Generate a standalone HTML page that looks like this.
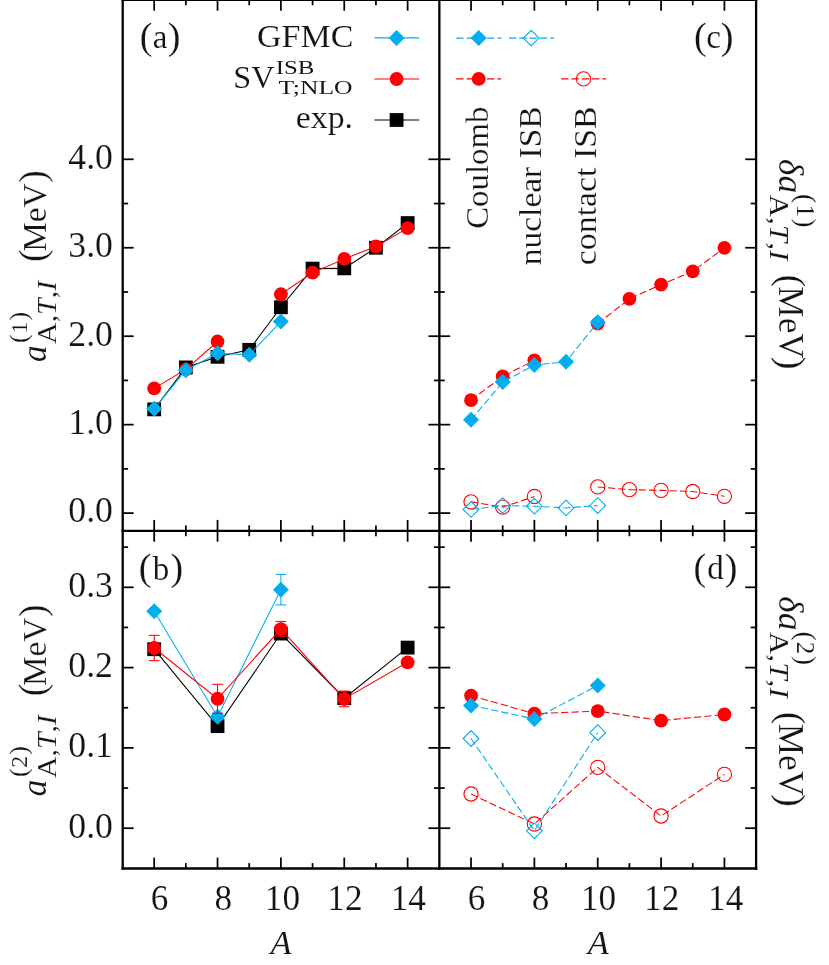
<!DOCTYPE html>
<html>
<head>
<meta charset="utf-8">
<title>Figure</title>
<style>
html, body { margin: 0; padding: 0; background: #ffffff; }
body { width: 829px; height: 965px; overflow: hidden; font-family: "Liberation Serif", serif; }
svg { display: block; will-change: transform; }
</style>
</head>
<body>
<svg width="829" height="965" viewBox="0 0 829 965" font-family="'Liberation Serif', serif">
<rect x="0" y="0" width="829" height="965" fill="#ffffff"/>
<polyline points="154.18,409.35 185.86,367.42 217.54,356.81 249.22,349.82 280.9,307.28 312.58,268.62 344.26,268.36 375.94,247.75 407.62,223.07" fill="none" stroke="#000000" stroke-width="1.08"/>
<rect x="147.28" y="402.45" width="13.8" height="13.8" fill="#000000"/>
<rect x="178.96" y="360.52" width="13.8" height="13.8" fill="#000000"/>
<rect x="210.64" y="349.91" width="13.8" height="13.8" fill="#000000"/>
<rect x="242.32" y="342.92" width="13.8" height="13.8" fill="#000000"/>
<rect x="274" y="300.38" width="13.8" height="13.8" fill="#000000"/>
<rect x="305.68" y="261.72" width="13.8" height="13.8" fill="#000000"/>
<rect x="337.36" y="261.46" width="13.8" height="13.8" fill="#000000"/>
<rect x="369.04" y="240.85" width="13.8" height="13.8" fill="#000000"/>
<rect x="400.72" y="216.17" width="13.8" height="13.8" fill="#000000"/>
<polyline points="154.18,388.39 185.86,369.37 217.54,341.51" fill="none" stroke="#ff0000" stroke-width="1.08"/>
<polyline points="280.9,294.27 312.58,272.6 344.26,258.89 375.94,246.42 407.62,228.11" fill="none" stroke="#ff0000" stroke-width="1.08"/>
<circle cx="154.18" cy="388.39" r="6.9" fill="#ff0000"/>
<circle cx="185.86" cy="369.37" r="6.9" fill="#ff0000"/>
<circle cx="217.54" cy="341.51" r="6.9" fill="#ff0000"/>
<circle cx="280.9" cy="294.27" r="6.9" fill="#ff0000"/>
<circle cx="312.58" cy="272.6" r="6.9" fill="#ff0000"/>
<circle cx="344.26" cy="258.89" r="6.9" fill="#ff0000"/>
<circle cx="375.94" cy="246.42" r="6.9" fill="#ff0000"/>
<circle cx="407.62" cy="228.11" r="6.9" fill="#ff0000"/>
<polyline points="154.18,408.64 185.86,370.16 217.54,353.18 249.22,354.86 280.9,321.52" fill="none" stroke="#00aeef" stroke-width="1.08"/>
<polygon points="146.18,408.64 154.18,400.64 162.18,408.64 154.18,416.64" fill="#00aeef"/>
<polygon points="177.86,370.16 185.86,362.16 193.86,370.16 185.86,378.16" fill="#00aeef"/>
<polygon points="209.54,353.18 217.54,345.18 225.54,353.18 217.54,361.18" fill="#00aeef"/>
<polygon points="241.22,354.86 249.22,346.86 257.22,354.86 249.22,362.86" fill="#00aeef"/>
<polygon points="272.9,321.52 280.9,313.52 288.9,321.52 280.9,329.52" fill="#00aeef"/>
<polyline points="154.18,649.21 217.54,726.14 280.9,633.55 344.26,698.19 407.62,647.61" fill="none" stroke="#000000" stroke-width="1.08"/>
<rect x="147.28" y="642.31" width="13.8" height="13.8" fill="#000000"/>
<rect x="210.64" y="719.24" width="13.8" height="13.8" fill="#000000"/>
<rect x="274" y="626.65" width="13.8" height="13.8" fill="#000000"/>
<rect x="337.36" y="691.29" width="13.8" height="13.8" fill="#000000"/>
<rect x="400.72" y="640.71" width="13.8" height="13.8" fill="#000000"/>
<polyline points="154.18,611.31 217.54,716.66 280.9,589.63" fill="none" stroke="#00aeef" stroke-width="1.08"/>
<line x1="280.9" y1="574.37" x2="280.9" y2="604.89" stroke="#00aeef" stroke-width="1.05" />
<line x1="275.5" y1="574.37" x2="286.3" y2="574.37" stroke="#00aeef" stroke-width="1.05" />
<line x1="275.5" y1="604.89" x2="286.3" y2="604.89" stroke="#00aeef" stroke-width="1.05" />
<line x1="217.54" y1="713.45" x2="217.54" y2="719.88" stroke="#00aeef" stroke-width="1.05" />
<line x1="212.14" y1="713.45" x2="222.94" y2="713.45" stroke="#00aeef" stroke-width="1.05" />
<line x1="212.14" y1="719.88" x2="222.94" y2="719.88" stroke="#00aeef" stroke-width="1.05" />
<polygon points="146.18,611.31 154.18,603.31 162.18,611.31 154.18,619.31" fill="#00aeef"/>
<polygon points="209.54,716.66 217.54,708.66 225.54,716.66 217.54,724.66" fill="#00aeef"/>
<polygon points="272.9,589.63 280.9,581.63 288.9,589.63 280.9,597.63" fill="#00aeef"/>
<polyline points="154.18,648.01 217.54,698.76 280.9,629.06 344.26,698.92 407.62,662.3" fill="none" stroke="#ff0000" stroke-width="1.08"/>
<line x1="154.18" y1="635.32" x2="154.18" y2="660.69" stroke="#ff0000" stroke-width="1.05" />
<line x1="148.78" y1="635.32" x2="159.58" y2="635.32" stroke="#ff0000" stroke-width="1.05" />
<line x1="148.78" y1="660.69" x2="159.58" y2="660.69" stroke="#ff0000" stroke-width="1.05" />
<line x1="217.54" y1="684.3" x2="217.54" y2="713.21" stroke="#ff0000" stroke-width="1.05" />
<line x1="212.14" y1="684.3" x2="222.94" y2="684.3" stroke="#ff0000" stroke-width="1.05" />
<line x1="212.14" y1="713.21" x2="222.94" y2="713.21" stroke="#ff0000" stroke-width="1.05" />
<line x1="280.9" y1="621.43" x2="280.9" y2="636.68" stroke="#ff0000" stroke-width="1.05" />
<line x1="275.5" y1="621.43" x2="286.3" y2="621.43" stroke="#ff0000" stroke-width="1.05" />
<line x1="275.5" y1="636.68" x2="286.3" y2="636.68" stroke="#ff0000" stroke-width="1.05" />
<line x1="344.26" y1="691.05" x2="344.26" y2="706.79" stroke="#ff0000" stroke-width="1.05" />
<line x1="338.86" y1="691.05" x2="349.66" y2="691.05" stroke="#ff0000" stroke-width="1.05" />
<line x1="338.86" y1="706.79" x2="349.66" y2="706.79" stroke="#ff0000" stroke-width="1.05" />
<circle cx="154.18" cy="648.01" r="6.9" fill="#ff0000"/>
<circle cx="217.54" cy="698.76" r="6.9" fill="#ff0000"/>
<circle cx="280.9" cy="629.06" r="6.9" fill="#ff0000"/>
<circle cx="344.26" cy="698.92" r="6.9" fill="#ff0000"/>
<circle cx="407.62" cy="662.3" r="6.9" fill="#ff0000"/>
<polyline points="471.03,400.15 502.7,376.44 534.38,360.35" fill="none" stroke="#ff0000" stroke-width="1.08" stroke-dasharray="7.2 3.1"/>
<polyline points="597.73,323.64 629.4,298.87 661.08,284.55 692.75,271.28 724.42,247.84" fill="none" stroke="#ff0000" stroke-width="1.08" stroke-dasharray="7.2 3.1"/>
<circle cx="471.03" cy="400.15" r="6.9" fill="#ff0000"/>
<circle cx="502.7" cy="376.44" r="6.9" fill="#ff0000"/>
<circle cx="534.38" cy="360.35" r="6.9" fill="#ff0000"/>
<circle cx="597.73" cy="323.64" r="6.9" fill="#ff0000"/>
<circle cx="629.4" cy="298.87" r="6.9" fill="#ff0000"/>
<circle cx="661.08" cy="284.55" r="6.9" fill="#ff0000"/>
<circle cx="692.75" cy="271.28" r="6.9" fill="#ff0000"/>
<circle cx="724.42" cy="247.84" r="6.9" fill="#ff0000"/>
<polyline points="471.03,419.87 502.7,382.02 534.38,365.12 566.05,361.67 597.73,322.22" fill="none" stroke="#00aeef" stroke-width="1.08" stroke-dasharray="7.2 3.1"/>
<polygon points="463.03,419.87 471.03,411.87 479.03,419.87 471.03,427.87" fill="#00aeef"/>
<polygon points="494.7,382.02 502.7,374.02 510.7,382.02 502.7,390.02" fill="#00aeef"/>
<polygon points="526.38,365.12 534.38,357.12 542.38,365.12 534.38,373.12" fill="#00aeef"/>
<polygon points="558.05,361.67 566.05,353.67 574.05,361.67 566.05,369.67" fill="#00aeef"/>
<polygon points="589.73,322.22 597.73,314.22 605.73,322.22 597.73,330.22" fill="#00aeef"/>
<polyline points="471.03,501.87 502.7,507.09 534.38,496.47" fill="none" stroke="#ff0000" stroke-width="1.08" stroke-dasharray="7.2 3.1"/>
<polyline points="597.73,486.92 629.4,489.66 661.08,490.37 692.75,491.52 724.42,496.29" fill="none" stroke="#ff0000" stroke-width="1.08" stroke-dasharray="7.2 3.1"/>
<circle cx="471.03" cy="501.87" r="7.1" fill="none" stroke="#ff0000" stroke-width="1.1"/>
<circle cx="502.7" cy="507.09" r="7.1" fill="none" stroke="#ff0000" stroke-width="1.1"/>
<circle cx="534.38" cy="496.47" r="7.1" fill="none" stroke="#ff0000" stroke-width="1.1"/>
<circle cx="597.73" cy="486.92" r="7.1" fill="none" stroke="#ff0000" stroke-width="1.1"/>
<circle cx="629.4" cy="489.66" r="7.1" fill="none" stroke="#ff0000" stroke-width="1.1"/>
<circle cx="661.08" cy="490.37" r="7.1" fill="none" stroke="#ff0000" stroke-width="1.1"/>
<circle cx="692.75" cy="491.52" r="7.1" fill="none" stroke="#ff0000" stroke-width="1.1"/>
<circle cx="724.42" cy="496.29" r="7.1" fill="none" stroke="#ff0000" stroke-width="1.1"/>
<polyline points="471.03,509.47 502.7,505.58 534.38,506.2 566.05,507.97 597.73,505.58" fill="none" stroke="#00aeef" stroke-width="1.08" stroke-dasharray="7.2 3.1"/>
<polygon points="463.18,509.47 471.03,501.62 478.88,509.47 471.03,517.32" fill="none" stroke="#00aeef" stroke-width="1.1"/>
<polygon points="494.85,505.58 502.7,497.73 510.55,505.58 502.7,513.43" fill="none" stroke="#00aeef" stroke-width="1.1"/>
<polygon points="526.52,506.2 534.38,498.35 542.23,506.2 534.38,514.05" fill="none" stroke="#00aeef" stroke-width="1.1"/>
<polygon points="558.2,507.97 566.05,500.12 573.9,507.97 566.05,515.82" fill="none" stroke="#00aeef" stroke-width="1.1"/>
<polygon points="589.88,505.58 597.73,497.73 605.58,505.58 597.73,513.43" fill="none" stroke="#00aeef" stroke-width="1.1"/>
<polyline points="471.03,695.62 534.38,713.69 597.73,711.12 661.08,720.6 724.42,714.5" fill="none" stroke="#ff0000" stroke-width="1.08" stroke-dasharray="7.2 3.1"/>
<circle cx="471.03" cy="695.62" r="6.9" fill="#ff0000"/>
<circle cx="534.38" cy="713.69" r="6.9" fill="#ff0000"/>
<circle cx="597.73" cy="711.12" r="6.9" fill="#ff0000"/>
<circle cx="661.08" cy="720.6" r="6.9" fill="#ff0000"/>
<circle cx="724.42" cy="714.5" r="6.9" fill="#ff0000"/>
<polyline points="471.03,705.42 534.38,718.91 597.73,685.43" fill="none" stroke="#00aeef" stroke-width="1.08" stroke-dasharray="7.2 3.1"/>
<polygon points="463.03,705.42 471.03,697.42 479.03,705.42 471.03,713.42" fill="#00aeef"/>
<polygon points="526.38,718.91 534.38,710.91 542.38,718.91 534.38,726.91" fill="#00aeef"/>
<polygon points="589.73,685.43 597.73,677.43 605.73,685.43 597.73,693.43" fill="#00aeef"/>
<polyline points="471.03,793.99 534.38,824.02 597.73,767.41 661.08,815.99 724.42,774.4" fill="none" stroke="#ff0000" stroke-width="1.08" stroke-dasharray="7.2 3.1"/>
<circle cx="471.03" cy="793.99" r="7.1" fill="none" stroke="#ff0000" stroke-width="1.1"/>
<circle cx="534.38" cy="824.02" r="7.1" fill="none" stroke="#ff0000" stroke-width="1.1"/>
<circle cx="597.73" cy="767.41" r="7.1" fill="none" stroke="#ff0000" stroke-width="1.1"/>
<circle cx="661.08" cy="815.99" r="7.1" fill="none" stroke="#ff0000" stroke-width="1.1"/>
<circle cx="724.42" cy="774.4" r="7.1" fill="none" stroke="#ff0000" stroke-width="1.1"/>
<polyline points="471.03,738.5 534.38,830.77 597.73,732.64" fill="none" stroke="#00aeef" stroke-width="1.08" stroke-dasharray="7.2 3.1"/>
<polygon points="463.18,738.5 471.03,730.65 478.88,738.5 471.03,746.35" fill="none" stroke="#00aeef" stroke-width="1.1"/>
<polygon points="526.52,830.77 534.38,822.92 542.23,830.77 534.38,838.62" fill="none" stroke="#00aeef" stroke-width="1.1"/>
<polygon points="589.88,732.64 597.73,724.79 605.58,732.64 597.73,740.49" fill="none" stroke="#00aeef" stroke-width="1.1"/>
<g stroke-linecap="butt">
<line x1="122.7" y1="0" x2="122.7" y2="869.65" stroke="#000000" stroke-width="2.3" />
<line x1="439.35" y1="0" x2="439.35" y2="869.65" stroke="#000000" stroke-width="2.3" />
<line x1="756.1" y1="0" x2="756.1" y2="869.65" stroke="#000000" stroke-width="2.3" />
<line x1="121.55" y1="-0.15" x2="757.25" y2="-0.15" stroke="#000000" stroke-width="2.3" />
<line x1="121.55" y1="530.8" x2="757.25" y2="530.8" stroke="#000000" stroke-width="2.3" />
<line x1="121.55" y1="868.5" x2="757.25" y2="868.5" stroke="#000000" stroke-width="2.3" />
<line x1="154.18" y1="-0.15" x2="154.18" y2="10.75" stroke="#000000" stroke-width="1.75" />
<line x1="154.18" y1="519.9" x2="154.18" y2="541.7" stroke="#000000" stroke-width="1.75" />
<line x1="154.18" y1="857.6" x2="154.18" y2="868.5" stroke="#000000" stroke-width="1.75" />
<line x1="185.86" y1="-0.15" x2="185.86" y2="5.25" stroke="#000000" stroke-width="1.75" />
<line x1="185.86" y1="525.4" x2="185.86" y2="536.2" stroke="#000000" stroke-width="1.75" />
<line x1="185.86" y1="863.1" x2="185.86" y2="868.5" stroke="#000000" stroke-width="1.75" />
<line x1="217.54" y1="-0.15" x2="217.54" y2="10.75" stroke="#000000" stroke-width="1.75" />
<line x1="217.54" y1="519.9" x2="217.54" y2="541.7" stroke="#000000" stroke-width="1.75" />
<line x1="217.54" y1="857.6" x2="217.54" y2="868.5" stroke="#000000" stroke-width="1.75" />
<line x1="249.22" y1="-0.15" x2="249.22" y2="5.25" stroke="#000000" stroke-width="1.75" />
<line x1="249.22" y1="525.4" x2="249.22" y2="536.2" stroke="#000000" stroke-width="1.75" />
<line x1="249.22" y1="863.1" x2="249.22" y2="868.5" stroke="#000000" stroke-width="1.75" />
<line x1="280.9" y1="-0.15" x2="280.9" y2="10.75" stroke="#000000" stroke-width="1.75" />
<line x1="280.9" y1="519.9" x2="280.9" y2="541.7" stroke="#000000" stroke-width="1.75" />
<line x1="280.9" y1="857.6" x2="280.9" y2="868.5" stroke="#000000" stroke-width="1.75" />
<line x1="312.58" y1="-0.15" x2="312.58" y2="5.25" stroke="#000000" stroke-width="1.75" />
<line x1="312.58" y1="525.4" x2="312.58" y2="536.2" stroke="#000000" stroke-width="1.75" />
<line x1="312.58" y1="863.1" x2="312.58" y2="868.5" stroke="#000000" stroke-width="1.75" />
<line x1="344.26" y1="-0.15" x2="344.26" y2="10.75" stroke="#000000" stroke-width="1.75" />
<line x1="344.26" y1="519.9" x2="344.26" y2="541.7" stroke="#000000" stroke-width="1.75" />
<line x1="344.26" y1="857.6" x2="344.26" y2="868.5" stroke="#000000" stroke-width="1.75" />
<line x1="375.94" y1="-0.15" x2="375.94" y2="5.25" stroke="#000000" stroke-width="1.75" />
<line x1="375.94" y1="525.4" x2="375.94" y2="536.2" stroke="#000000" stroke-width="1.75" />
<line x1="375.94" y1="863.1" x2="375.94" y2="868.5" stroke="#000000" stroke-width="1.75" />
<line x1="407.62" y1="-0.15" x2="407.62" y2="10.75" stroke="#000000" stroke-width="1.75" />
<line x1="407.62" y1="519.9" x2="407.62" y2="541.7" stroke="#000000" stroke-width="1.75" />
<line x1="407.62" y1="857.6" x2="407.62" y2="868.5" stroke="#000000" stroke-width="1.75" />
<line x1="471.03" y1="-0.15" x2="471.03" y2="10.75" stroke="#000000" stroke-width="1.75" />
<line x1="471.03" y1="519.9" x2="471.03" y2="541.7" stroke="#000000" stroke-width="1.75" />
<line x1="471.03" y1="857.6" x2="471.03" y2="868.5" stroke="#000000" stroke-width="1.75" />
<line x1="502.7" y1="-0.15" x2="502.7" y2="5.25" stroke="#000000" stroke-width="1.75" />
<line x1="502.7" y1="525.4" x2="502.7" y2="536.2" stroke="#000000" stroke-width="1.75" />
<line x1="502.7" y1="863.1" x2="502.7" y2="868.5" stroke="#000000" stroke-width="1.75" />
<line x1="534.38" y1="-0.15" x2="534.38" y2="10.75" stroke="#000000" stroke-width="1.75" />
<line x1="534.38" y1="519.9" x2="534.38" y2="541.7" stroke="#000000" stroke-width="1.75" />
<line x1="534.38" y1="857.6" x2="534.38" y2="868.5" stroke="#000000" stroke-width="1.75" />
<line x1="566.05" y1="-0.15" x2="566.05" y2="5.25" stroke="#000000" stroke-width="1.75" />
<line x1="566.05" y1="525.4" x2="566.05" y2="536.2" stroke="#000000" stroke-width="1.75" />
<line x1="566.05" y1="863.1" x2="566.05" y2="868.5" stroke="#000000" stroke-width="1.75" />
<line x1="597.73" y1="-0.15" x2="597.73" y2="10.75" stroke="#000000" stroke-width="1.75" />
<line x1="597.73" y1="519.9" x2="597.73" y2="541.7" stroke="#000000" stroke-width="1.75" />
<line x1="597.73" y1="857.6" x2="597.73" y2="868.5" stroke="#000000" stroke-width="1.75" />
<line x1="629.4" y1="-0.15" x2="629.4" y2="5.25" stroke="#000000" stroke-width="1.75" />
<line x1="629.4" y1="525.4" x2="629.4" y2="536.2" stroke="#000000" stroke-width="1.75" />
<line x1="629.4" y1="863.1" x2="629.4" y2="868.5" stroke="#000000" stroke-width="1.75" />
<line x1="661.08" y1="-0.15" x2="661.08" y2="10.75" stroke="#000000" stroke-width="1.75" />
<line x1="661.08" y1="519.9" x2="661.08" y2="541.7" stroke="#000000" stroke-width="1.75" />
<line x1="661.08" y1="857.6" x2="661.08" y2="868.5" stroke="#000000" stroke-width="1.75" />
<line x1="692.75" y1="-0.15" x2="692.75" y2="5.25" stroke="#000000" stroke-width="1.75" />
<line x1="692.75" y1="525.4" x2="692.75" y2="536.2" stroke="#000000" stroke-width="1.75" />
<line x1="692.75" y1="863.1" x2="692.75" y2="868.5" stroke="#000000" stroke-width="1.75" />
<line x1="724.42" y1="-0.15" x2="724.42" y2="10.75" stroke="#000000" stroke-width="1.75" />
<line x1="724.42" y1="519.9" x2="724.42" y2="541.7" stroke="#000000" stroke-width="1.75" />
<line x1="724.42" y1="857.6" x2="724.42" y2="868.5" stroke="#000000" stroke-width="1.75" />
<line x1="122.7" y1="513.1" x2="133.6" y2="513.1" stroke="#000000" stroke-width="1.75" />
<line x1="428.45" y1="513.1" x2="450.25" y2="513.1" stroke="#000000" stroke-width="1.75" />
<line x1="745.2" y1="513.1" x2="756.1" y2="513.1" stroke="#000000" stroke-width="1.75" />
<line x1="122.7" y1="468.88" x2="128.1" y2="468.88" stroke="#000000" stroke-width="1.75" />
<line x1="433.95" y1="468.88" x2="444.75" y2="468.88" stroke="#000000" stroke-width="1.75" />
<line x1="750.7" y1="468.88" x2="756.1" y2="468.88" stroke="#000000" stroke-width="1.75" />
<line x1="122.7" y1="424.65" x2="133.6" y2="424.65" stroke="#000000" stroke-width="1.75" />
<line x1="428.45" y1="424.65" x2="450.25" y2="424.65" stroke="#000000" stroke-width="1.75" />
<line x1="745.2" y1="424.65" x2="756.1" y2="424.65" stroke="#000000" stroke-width="1.75" />
<line x1="122.7" y1="380.43" x2="128.1" y2="380.43" stroke="#000000" stroke-width="1.75" />
<line x1="433.95" y1="380.43" x2="444.75" y2="380.43" stroke="#000000" stroke-width="1.75" />
<line x1="750.7" y1="380.43" x2="756.1" y2="380.43" stroke="#000000" stroke-width="1.75" />
<line x1="122.7" y1="336.2" x2="133.6" y2="336.2" stroke="#000000" stroke-width="1.75" />
<line x1="428.45" y1="336.2" x2="450.25" y2="336.2" stroke="#000000" stroke-width="1.75" />
<line x1="745.2" y1="336.2" x2="756.1" y2="336.2" stroke="#000000" stroke-width="1.75" />
<line x1="122.7" y1="291.98" x2="128.1" y2="291.98" stroke="#000000" stroke-width="1.75" />
<line x1="433.95" y1="291.98" x2="444.75" y2="291.98" stroke="#000000" stroke-width="1.75" />
<line x1="750.7" y1="291.98" x2="756.1" y2="291.98" stroke="#000000" stroke-width="1.75" />
<line x1="122.7" y1="247.75" x2="133.6" y2="247.75" stroke="#000000" stroke-width="1.75" />
<line x1="428.45" y1="247.75" x2="450.25" y2="247.75" stroke="#000000" stroke-width="1.75" />
<line x1="745.2" y1="247.75" x2="756.1" y2="247.75" stroke="#000000" stroke-width="1.75" />
<line x1="122.7" y1="203.53" x2="128.1" y2="203.53" stroke="#000000" stroke-width="1.75" />
<line x1="433.95" y1="203.53" x2="444.75" y2="203.53" stroke="#000000" stroke-width="1.75" />
<line x1="750.7" y1="203.53" x2="756.1" y2="203.53" stroke="#000000" stroke-width="1.75" />
<line x1="122.7" y1="159.3" x2="133.6" y2="159.3" stroke="#000000" stroke-width="1.75" />
<line x1="428.45" y1="159.3" x2="450.25" y2="159.3" stroke="#000000" stroke-width="1.75" />
<line x1="745.2" y1="159.3" x2="756.1" y2="159.3" stroke="#000000" stroke-width="1.75" />
<line x1="122.7" y1="828.2" x2="133.6" y2="828.2" stroke="#000000" stroke-width="1.75" />
<line x1="428.45" y1="828.2" x2="450.25" y2="828.2" stroke="#000000" stroke-width="1.75" />
<line x1="745.2" y1="828.2" x2="756.1" y2="828.2" stroke="#000000" stroke-width="1.75" />
<line x1="122.7" y1="788.05" x2="128.1" y2="788.05" stroke="#000000" stroke-width="1.75" />
<line x1="433.95" y1="788.05" x2="444.75" y2="788.05" stroke="#000000" stroke-width="1.75" />
<line x1="750.7" y1="788.05" x2="756.1" y2="788.05" stroke="#000000" stroke-width="1.75" />
<line x1="122.7" y1="747.9" x2="133.6" y2="747.9" stroke="#000000" stroke-width="1.75" />
<line x1="428.45" y1="747.9" x2="450.25" y2="747.9" stroke="#000000" stroke-width="1.75" />
<line x1="745.2" y1="747.9" x2="756.1" y2="747.9" stroke="#000000" stroke-width="1.75" />
<line x1="122.7" y1="707.75" x2="128.1" y2="707.75" stroke="#000000" stroke-width="1.75" />
<line x1="433.95" y1="707.75" x2="444.75" y2="707.75" stroke="#000000" stroke-width="1.75" />
<line x1="750.7" y1="707.75" x2="756.1" y2="707.75" stroke="#000000" stroke-width="1.75" />
<line x1="122.7" y1="667.6" x2="133.6" y2="667.6" stroke="#000000" stroke-width="1.75" />
<line x1="428.45" y1="667.6" x2="450.25" y2="667.6" stroke="#000000" stroke-width="1.75" />
<line x1="745.2" y1="667.6" x2="756.1" y2="667.6" stroke="#000000" stroke-width="1.75" />
<line x1="122.7" y1="627.45" x2="128.1" y2="627.45" stroke="#000000" stroke-width="1.75" />
<line x1="433.95" y1="627.45" x2="444.75" y2="627.45" stroke="#000000" stroke-width="1.75" />
<line x1="750.7" y1="627.45" x2="756.1" y2="627.45" stroke="#000000" stroke-width="1.75" />
<line x1="122.7" y1="587.3" x2="133.6" y2="587.3" stroke="#000000" stroke-width="1.75" />
<line x1="428.45" y1="587.3" x2="450.25" y2="587.3" stroke="#000000" stroke-width="1.75" />
<line x1="745.2" y1="587.3" x2="756.1" y2="587.3" stroke="#000000" stroke-width="1.75" />
<line x1="122.7" y1="547.15" x2="128.1" y2="547.15" stroke="#000000" stroke-width="1.75" />
<line x1="433.95" y1="547.15" x2="444.75" y2="547.15" stroke="#000000" stroke-width="1.75" />
<line x1="750.7" y1="547.15" x2="756.1" y2="547.15" stroke="#000000" stroke-width="1.75" />
</g>
<line x1="374.5" y1="37.9" x2="419.2" y2="37.9" stroke="#00aeef" stroke-width="1.08" />
<polygon points="388.6,37.9 396.6,29.9 404.6,37.9 396.6,45.9" fill="#00aeef"/>
<line x1="374.5" y1="79" x2="419.2" y2="79" stroke="#ff0000" stroke-width="1.08" />
<circle cx="396.6" cy="79" r="6.9" fill="#ff0000"/>
<line x1="374.5" y1="120" x2="419.2" y2="120" stroke="#000000" stroke-width="1.08" />
<rect x="389.7" y="113.1" width="13.8" height="13.8" fill="#000000"/>
<text x="353.3" y="46.8" font-size="32.5" text-anchor="end" textLength="96.3" lengthAdjust="spacingAndGlyphs" fill="#141414"  stroke="#ffffff" stroke-width="0.13">GFMC</text>
<text x="233.3" y="88.2" font-size="32.5" text-anchor="start" textLength="41.2" lengthAdjust="spacingAndGlyphs" fill="#141414"  stroke="#ffffff" stroke-width="0.13">SV</text>
<text x="275.7" y="73.6" font-size="19.5" text-anchor="start" textLength="38.6" lengthAdjust="spacingAndGlyphs" fill="#141414"  stroke="#ffffff" stroke-width="0.0">ISB</text>
<text x="278.6" y="93.8" font-size="19.5" text-anchor="start" textLength="74" lengthAdjust="spacingAndGlyphs" fill="#141414"  stroke="#ffffff" stroke-width="0.0">T;NLO</text>
<text x="353" y="128" font-size="32" text-anchor="end" textLength="57.2" lengthAdjust="spacingAndGlyphs" fill="#141414"  stroke="#ffffff" stroke-width="0.12">exp.</text>
<polyline points="456.2,38.1 501.3,38.1" fill="none" stroke="#00aeef" stroke-width="1.08" stroke-dasharray="7.2 3.1"/>
<polygon points="470.7,38.1 478.7,30.1 486.7,38.1 478.7,46.1" fill="#00aeef"/>
<polyline points="509,38.1 553.9,38.1" fill="none" stroke="#00aeef" stroke-width="1.08" stroke-dasharray="7.2 3.1"/>
<polygon points="523.35,38.1 531.2,30.25 539.05,38.1 531.2,45.95" fill="none" stroke="#00aeef" stroke-width="1.1"/>
<polyline points="456.2,78.9 501,78.9" fill="none" stroke="#ff0000" stroke-width="1.08" stroke-dasharray="7.2 3.1"/>
<circle cx="478.7" cy="78.9" r="6.9" fill="#ff0000"/>
<polyline points="561.2,78.9 606,78.9" fill="none" stroke="#ff0000" stroke-width="1.08" stroke-dasharray="7.2 3.1"/>
<circle cx="583.5" cy="78.9" r="7.1" fill="none" stroke="#ff0000" stroke-width="1.1"/>
<g transform="translate(487.6,228.8) rotate(-90)">
<text x="0" y="0" font-size="32.5" text-anchor="start" textLength="122.3" lengthAdjust="spacingAndGlyphs" fill="#141414"  stroke="#ffffff" stroke-width="0.2">Coulomb</text>
</g>
<g transform="translate(541.2,265.2) rotate(-90)">
<text x="0" y="0" font-size="32.5" text-anchor="start" textLength="158.8" lengthAdjust="spacingAndGlyphs" fill="#141414"  stroke="#ffffff" stroke-width="0.2">nuclear ISB</text>
</g>
<g transform="translate(596,265.2) rotate(-90)">
<text x="0" y="0" font-size="32.5" text-anchor="start" textLength="158.8" lengthAdjust="spacingAndGlyphs" fill="#141414"  stroke="#ffffff" stroke-width="0.2">contact ISB</text>
</g>
<text x="112.9" y="522.4" font-size="35.2" text-anchor="end" textLength="44.6" lengthAdjust="spacingAndGlyphs" fill="#141414"  stroke="#ffffff" stroke-width="0.14">0.0</text>
<text x="112.9" y="433.95" font-size="35.2" text-anchor="end" textLength="44.6" lengthAdjust="spacingAndGlyphs" fill="#141414"  stroke="#ffffff" stroke-width="0.14">1.0</text>
<text x="112.9" y="345.5" font-size="35.2" text-anchor="end" textLength="44.6" lengthAdjust="spacingAndGlyphs" fill="#141414"  stroke="#ffffff" stroke-width="0.14">2.0</text>
<text x="112.9" y="257.05" font-size="35.2" text-anchor="end" textLength="44.6" lengthAdjust="spacingAndGlyphs" fill="#141414"  stroke="#ffffff" stroke-width="0.14">3.0</text>
<text x="112.9" y="168.6" font-size="35.2" text-anchor="end" textLength="44.6" lengthAdjust="spacingAndGlyphs" fill="#141414"  stroke="#ffffff" stroke-width="0.14">4.0</text>
<text x="112.9" y="837.5" font-size="35.2" text-anchor="end" textLength="44.6" lengthAdjust="spacingAndGlyphs" fill="#141414"  stroke="#ffffff" stroke-width="0.14">0.0</text>
<text x="112.9" y="757.2" font-size="35.2" text-anchor="end" textLength="44.6" lengthAdjust="spacingAndGlyphs" fill="#141414"  stroke="#ffffff" stroke-width="0.14">0.1</text>
<text x="112.9" y="676.9" font-size="35.2" text-anchor="end" textLength="44.6" lengthAdjust="spacingAndGlyphs" fill="#141414"  stroke="#ffffff" stroke-width="0.14">0.2</text>
<text x="112.9" y="596.6" font-size="35.2" text-anchor="end" textLength="44.6" lengthAdjust="spacingAndGlyphs" fill="#141414"  stroke="#ffffff" stroke-width="0.14">0.3</text>
<text x="159.6" y="910.4" font-size="35.2" text-anchor="middle" fill="#141414"  stroke="#ffffff" stroke-width="0.14">6</text>
<text x="223.4" y="910.4" font-size="35.2" text-anchor="middle" fill="#141414"  stroke="#ffffff" stroke-width="0.14">8</text>
<text x="282.4" y="910.4" font-size="35.2" text-anchor="middle" fill="#141414"  stroke="#ffffff" stroke-width="0.14">10</text>
<text x="344.9" y="910.4" font-size="35.2" text-anchor="middle" fill="#141414"  stroke="#ffffff" stroke-width="0.14">12</text>
<text x="408.3" y="910.4" font-size="35.2" text-anchor="middle" fill="#141414"  stroke="#ffffff" stroke-width="0.14">14</text>
<text x="476.5" y="910.4" font-size="35.2" text-anchor="middle" fill="#141414"  stroke="#ffffff" stroke-width="0.14">6</text>
<text x="540.5" y="910.4" font-size="35.2" text-anchor="middle" fill="#141414"  stroke="#ffffff" stroke-width="0.14">8</text>
<text x="598.5" y="910.4" font-size="35.2" text-anchor="middle" fill="#141414"  stroke="#ffffff" stroke-width="0.14">10</text>
<text x="661.7" y="910.4" font-size="35.2" text-anchor="middle" fill="#141414"  stroke="#ffffff" stroke-width="0.14">12</text>
<text x="725.7" y="910.4" font-size="35.2" text-anchor="middle" fill="#141414"  stroke="#ffffff" stroke-width="0.14">14</text>
<text x="281" y="954" font-size="34.5" text-anchor="middle" font-style="italic" fill="#141414"  stroke="#ffffff" stroke-width="0.08">A</text>
<text x="598.3" y="954" font-size="34.5" text-anchor="middle" font-style="italic" fill="#141414"  stroke="#ffffff" stroke-width="0.08">A</text>
<text x="139.65" y="48.9" font-size="38" text-anchor="start" fill="#141414"  stroke="#ffffff" stroke-width="0.14">(</text>
<text x="180.35" y="48.9" font-size="38" text-anchor="end" fill="#141414"  stroke="#ffffff" stroke-width="0.14">)</text>
<text x="160" y="48.3" font-size="33" text-anchor="middle" fill="#141414"  stroke="#ffffff" stroke-width="0.13">a</text>
<text x="138.85" y="580.3" font-size="38" text-anchor="start" fill="#141414"  stroke="#ffffff" stroke-width="0.14">(</text>
<text x="183.15" y="580.3" font-size="38" text-anchor="end" fill="#141414"  stroke="#ffffff" stroke-width="0.14">)</text>
<text x="161" y="579.7" font-size="33" text-anchor="middle" fill="#141414"  stroke="#ffffff" stroke-width="0.13">b</text>
<text x="694.05" y="49" font-size="38" text-anchor="start" fill="#141414"  stroke="#ffffff" stroke-width="0.14">(</text>
<text x="733.35" y="49" font-size="38" text-anchor="end" fill="#141414"  stroke="#ffffff" stroke-width="0.14">)</text>
<text x="713.7" y="48.4" font-size="33" text-anchor="middle" fill="#141414"  stroke="#ffffff" stroke-width="0.13">c</text>
<text x="693.5" y="579.8" font-size="38" text-anchor="start" fill="#141414"  stroke="#ffffff" stroke-width="0.14">(</text>
<text x="737.5" y="579.8" font-size="38" text-anchor="end" fill="#141414"  stroke="#ffffff" stroke-width="0.14">)</text>
<text x="715.5" y="579.2" font-size="33" text-anchor="middle" fill="#141414"  stroke="#ffffff" stroke-width="0.13">d</text>
<g transform="translate(45.6,361.5) rotate(-90)">
<text x="-0.5" y="0" font-size="35" text-anchor="start" font-style="italic" textLength="16.5" lengthAdjust="spacingAndGlyphs" fill="#141414"  stroke="#ffffff" stroke-width="0.13">a</text>
<text x="18.6" y="-18.8" font-size="26" text-anchor="start" fill="#141414"  stroke="#ffffff" stroke-width="0.12">(</text>
<text x="34" y="-18.8" font-size="24" text-anchor="middle" fill="#141414"  stroke="#ffffff" stroke-width="0.1">1</text>
<text x="49.6" y="-18.8" font-size="26" text-anchor="end" fill="#141414"  stroke="#ffffff" stroke-width="0.12">)</text>
<text x="17.6" y="10.0" font-size="26.5" fill="#141414" stroke="#ffffff" stroke-width="0.13" textLength="63.0" lengthAdjust="spacingAndGlyphs">A,<tspan font-style="italic">T</tspan>,<tspan font-style="italic">I</tspan></text>
<text x="99.4" y="-0.6" font-size="37.6" text-anchor="start" fill="#141414"  stroke="#ffffff" stroke-width="0.22">(</text>
<text x="143.9" y="0" font-size="34" text-anchor="middle" textLength="68.5" lengthAdjust="spacingAndGlyphs" fill="#141414"  stroke="#ffffff" stroke-width="0.22">MeV</text>
<text x="191.3" y="-0.6" font-size="37.6" text-anchor="end" fill="#141414"  stroke="#ffffff" stroke-width="0.22">)</text>
</g>
<g transform="translate(45.6,795.7) rotate(-90)">
<text x="-0.5" y="0" font-size="35" text-anchor="start" font-style="italic" textLength="16.5" lengthAdjust="spacingAndGlyphs" fill="#141414"  stroke="#ffffff" stroke-width="0.13">a</text>
<text x="18.6" y="-18.8" font-size="26" text-anchor="start" fill="#141414"  stroke="#ffffff" stroke-width="0.12">(</text>
<text x="34" y="-18.8" font-size="24" text-anchor="middle" fill="#141414"  stroke="#ffffff" stroke-width="0.1">2</text>
<text x="49.6" y="-18.8" font-size="26" text-anchor="end" fill="#141414"  stroke="#ffffff" stroke-width="0.12">)</text>
<text x="17.6" y="10.0" font-size="26.5" fill="#141414" stroke="#ffffff" stroke-width="0.13" textLength="63.0" lengthAdjust="spacingAndGlyphs">A,<tspan font-style="italic">T</tspan>,<tspan font-style="italic">I</tspan></text>
<text x="99.4" y="-0.6" font-size="37.6" text-anchor="start" fill="#141414"  stroke="#ffffff" stroke-width="0.22">(</text>
<text x="143.9" y="0" font-size="34" text-anchor="middle" textLength="68.5" lengthAdjust="spacingAndGlyphs" fill="#141414"  stroke="#ffffff" stroke-width="0.22">MeV</text>
<text x="191.3" y="-0.6" font-size="37.6" text-anchor="end" fill="#141414"  stroke="#ffffff" stroke-width="0.22">)</text>
</g>
<g transform="translate(779.2,159.4) rotate(90)">
<text x="-0.5" y="0" font-size="35" text-anchor="start" font-style="italic" textLength="16.2" lengthAdjust="spacingAndGlyphs" fill="#141414"  stroke="#ffffff" stroke-width="0.13">δ</text>
<text x="16.3" y="0" font-size="35" text-anchor="start" font-style="italic" textLength="17.5" lengthAdjust="spacingAndGlyphs" fill="#141414"  stroke="#ffffff" stroke-width="0.13">a</text>
<text x="34.6" y="-17.5" font-size="27.5" text-anchor="start" fill="#141414"  stroke="#ffffff" stroke-width="0.14">(</text>
<text x="51.3" y="-17.5" font-size="25" text-anchor="middle" fill="#141414"  stroke="#ffffff" stroke-width="0.11">1</text>
<text x="68" y="-17.5" font-size="27.5" text-anchor="end" fill="#141414"  stroke="#ffffff" stroke-width="0.14">)</text>
<text x="35" y="9.6" font-size="27.5" fill="#141414" stroke="#ffffff" stroke-width="0.14" textLength="66.0" lengthAdjust="spacingAndGlyphs">A,<tspan font-style="italic">T</tspan>,<tspan font-style="italic">I</tspan></text>
<text x="115" y="0" font-size="38.5" text-anchor="start" fill="#141414"  stroke="#ffffff" stroke-width="0.22">(</text>
<text x="163.2" y="0" font-size="35" text-anchor="middle" textLength="72.5" lengthAdjust="spacingAndGlyphs" fill="#141414"  stroke="#ffffff" stroke-width="0.22">MeV</text>
<text x="210.1" y="0" font-size="38.5" text-anchor="end" fill="#141414"  stroke="#ffffff" stroke-width="0.22">)</text>
</g>
<g transform="translate(779.2,596.8) rotate(90)">
<text x="-0.5" y="0" font-size="35" text-anchor="start" font-style="italic" textLength="16.2" lengthAdjust="spacingAndGlyphs" fill="#141414"  stroke="#ffffff" stroke-width="0.13">δ</text>
<text x="16.3" y="0" font-size="35" text-anchor="start" font-style="italic" textLength="17.5" lengthAdjust="spacingAndGlyphs" fill="#141414"  stroke="#ffffff" stroke-width="0.13">a</text>
<text x="34.6" y="-17.5" font-size="27.5" text-anchor="start" fill="#141414"  stroke="#ffffff" stroke-width="0.14">(</text>
<text x="51.3" y="-17.5" font-size="25" text-anchor="middle" fill="#141414"  stroke="#ffffff" stroke-width="0.11">2</text>
<text x="68" y="-17.5" font-size="27.5" text-anchor="end" fill="#141414"  stroke="#ffffff" stroke-width="0.14">)</text>
<text x="35" y="9.6" font-size="27.5" fill="#141414" stroke="#ffffff" stroke-width="0.14" textLength="66.0" lengthAdjust="spacingAndGlyphs">A,<tspan font-style="italic">T</tspan>,<tspan font-style="italic">I</tspan></text>
<text x="115" y="0" font-size="38.5" text-anchor="start" fill="#141414"  stroke="#ffffff" stroke-width="0.22">(</text>
<text x="163.2" y="0" font-size="35" text-anchor="middle" textLength="72.5" lengthAdjust="spacingAndGlyphs" fill="#141414"  stroke="#ffffff" stroke-width="0.22">MeV</text>
<text x="210.1" y="0" font-size="38.5" text-anchor="end" fill="#141414"  stroke="#ffffff" stroke-width="0.22">)</text>
</g>
</svg>
</body>
</html>
